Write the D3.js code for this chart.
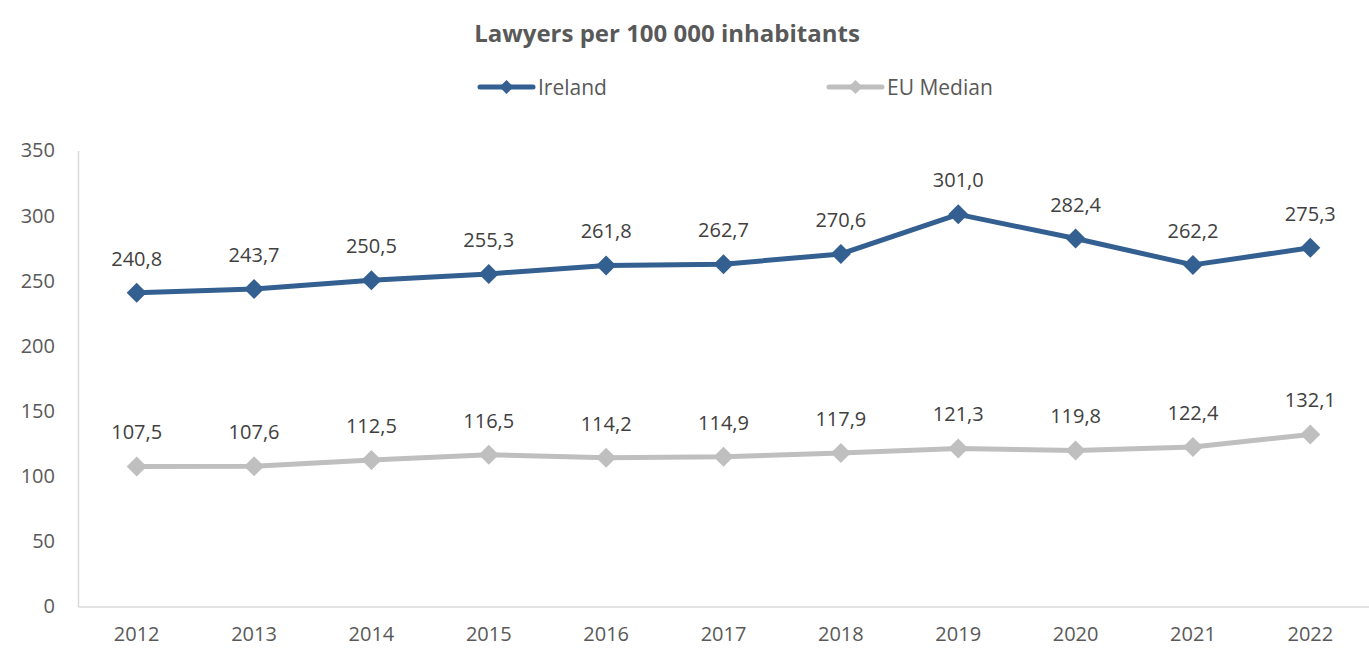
<!DOCTYPE html>
<html>
<head>
<meta charset="utf-8">
<script src="https://cdn.jsdelivr.net/npm/d3@7"></script>
<style>
  body { margin: 0; background: #fff; }
  svg { display: block; font-family: "Open Sans", "Liberation Sans", sans-serif; }
</style>
</head>
<body>
<div id="chart"></div>
<script>
// Daten
const years = ["2012", "2013", "2014", "2015", "2016", "2017", "2018", "2019", "2020", "2021", "2022"];
const ireland = [240.8, 243.7, 250.5, 255.3, 261.8, 262.7, 270.6, 301.0, 282.4, 262.2, 275.3];
const euMedian = [107.5, 107.6, 112.5, 116.5, 114.2, 114.9, 117.9, 121.3, 119.8, 122.4, 132.1];
const yTicks = [0, 50, 100, 150, 200, 250, 300, 350];

const series = [
  { name: "Ireland", values: ireland, color: "#335F91" },
  { name: "EU Median", values: euMedian, color: "#BFBFBF" }
];

const W = 1369, H = 652;
const m = { top: 150, right: 0, bottom: 45, left: 78 };
const FONT = '"Open Sans", "Liberation Sans", sans-serif';
const FS = "20px";

const svg = d3.select("#chart").append("svg").attr("width", W).attr("height", H);

const x = d3.scaleBand().domain(years).range([m.left, W - m.right]);
const y = d3.scaleLinear().domain([0, 350]).range([606.5, 150.5]);
const cx = d => x(d) + x.bandwidth() / 2;
const fmt = v => v.toFixed(1).replace(".", ",");
const textCol = "#595959";

// Titel
svg.append("text")
  .attr("x", 667).attr("y", 42)
  .attr("text-anchor", "middle")
  .style("font-size", "24px").style("font-weight", 700)
  .style("fill", textCol)
  .text("Lawyers per 100 000 inhabitants");

// Legende
const legendX = [480, 829];
series.forEach((s, i) => {
  const lg = svg.append("g").attr("transform", `translate(${legendX[i]},87)`);
  lg.append("line").attr("x1", 0).attr("x2", 53).attr("y1", 0).attr("y2", 0)
    .attr("stroke", s.color).attr("stroke-width", 5).attr("stroke-linecap", "round");
  lg.append("path").attr("d", "M26.5,-7L33.5,0L26.5,7L19.5,0Z").attr("fill", s.color);
  lg.append("text").attr("x", 58).attr("y", 7.5)
    .style("font-size", "21px").style("fill", textCol).text(s.name);
});

// Achsen
svg.append("g")
  .attr("transform", `translate(0,${y(0)})`)
  .call(d3.axisBottom(x).tickSize(0).tickPadding(20))
  .call(g => g.select(".domain").attr("stroke", "#D9D9D9").attr("stroke-width", 1.5))
  .call(g => g.selectAll("text").style("font-size", FS).style("fill", textCol).style("font-family", FONT));

svg.append("g")
  .attr("transform", `translate(${m.left},0)`)
  .call(d3.axisLeft(y).tickValues(yTicks).tickSize(0).tickPadding(23))
  .call(g => g.select(".domain").attr("stroke", "#D9D9D9").attr("stroke-width", 1.5))
  .call(g => g.selectAll("text").style("font-size", FS).style("fill", textCol).style("font-family", FONT));

// Linien, Marker, Labels
const line = d3.line().x((d, i) => cx(years[i])).y(d => y(d));

series.forEach(s => {
  svg.append("path")
    .datum(s.values)
    .attr("d", line)
    .attr("fill", "none")
    .attr("stroke", s.color)
    .attr("stroke-width", 5)
    .attr("stroke-linejoin", "round");

  svg.selectAll(null).data(s.values).enter().append("path")
    .attr("transform", (d, i) => `translate(${cx(years[i])},${y(d)})`)
    .attr("d", "M0,-10L10,0L0,10L-10,0Z")
    .attr("fill", s.color);

  svg.selectAll(null).data(s.values).enter().append("text")
    .attr("x", (d, i) => cx(years[i]))
    .attr("y", d => y(d) - 27)
    .attr("text-anchor", "middle")
    .style("font-size", FS)
    .style("fill", "#404040")
    .text(fmt);
});
</script>
</body>
</html>
